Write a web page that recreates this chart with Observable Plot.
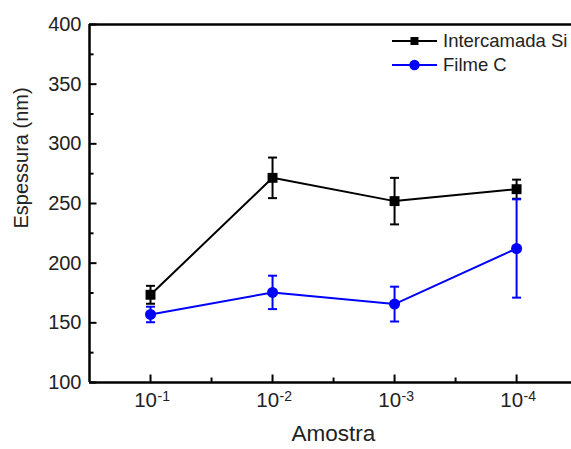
<!DOCTYPE html>
<html>
<head>
<meta charset="utf-8">
<script src="https://cdn.jsdelivr.net/npm/d3@7"></script>
<script src="https://cdn.jsdelivr.net/npm/@observablehq/plot@0.6"></script>
<style>
  html, body { margin: 0; padding: 0; background: #fff; overflow: hidden; }
  #wrap { position: relative; width: 571px; height: 449px; }
  #wrap svg { font-family: "Liberation Sans", Arial, sans-serif; }
  #legend { position: absolute; left: 0; top: 0; }
</style>
</head>
<body>
<div id="wrap"></div>
<script>
// ---- data ----
const samples = [1, 2, 3, 4];
const exponents = ["-1", "-2", "-3", "-4"];
const siValues = [173.5, 271.5, 252, 262];
const siErrors = [7.5, 17, 19.5, 8];
const filmeValues = [157, 175.5, 165.7, 212.3];
const filmeErrors = [6.5, 14, 14.6, 41.2];
const seriesNames = ["Intercamada Si", "Filme C"];
const yMajorTicks = [100, 150, 200, 250, 300, 350, 400];
const yMinorTicks = [125, 175, 225, 275, 325, 375];
const xMinorTicks = [1.5, 2.5, 3.5];
const xAxisTitle = "Amostra";
const yAxisTitle = "Espessura (nm)";

const si = samples.map((x, i) => ({x, y: siValues[i], e: siErrors[i]}));
const filme = samples.map((x, i) => ({x, y: filmeValues[i], e: filmeErrors[i]}));
const xLabels = samples.map((x, i) => ({x, exp: exponents[i]}));

// custom marker shapes (size = pi r^2)
const len = size => Math.sqrt(size / Math.PI);
const capSym = {draw(ctx, size) { const l = len(size); ctx.moveTo(-l, 0); ctx.lineTo(l, 0); }};
const tickRight = {draw(ctx, size) { const l = len(size); ctx.moveTo(0, 0); ctx.lineTo(l, 0); }};
const tickUp = {draw(ctx, size) { const l = len(size); ctx.moveTo(0, 0); ctx.lineTo(0, -l); }};

function seriesMarks(data, color, symbol, r) {
  return [
    Plot.line(data, {x: "x", y: "y", stroke: color, strokeWidth: 2}),
    Plot.ruleX(data, {x: "x", y1: d => d.y - d.e, y2: d => d.y + d.e, stroke: color, strokeWidth: 2}),
    Plot.dot(data, {x: "x", y: d => d.y - d.e, symbol: capSym, r: 4.5, stroke: color, strokeWidth: 2, fill: "none"}),
    Plot.dot(data, {x: "x", y: d => d.y + d.e, symbol: capSym, r: 4.5, stroke: color, strokeWidth: 2, fill: "none"}),
    Plot.dot(data, {x: "x", y: "y", symbol, r, fill: color, stroke: "none"})
  ];
}

const chart = Plot.plot({
  width: 571,
  height: 449,
  marginLeft: 89,
  marginRight: 0,
  marginTop: 24,
  marginBottom: 67,
  style: {fontFamily: "Liberation Sans, Arial, sans-serif", color: "black", background: "white"},
  x: {domain: [0.5, 4.45], axis: null},
  y: {domain: [100, 400], axis: null},
  marks: [
    // ticks (inward)
    Plot.dot(yMajorTicks, {y: d => d, frameAnchor: "left", symbol: tickRight, r: 7, stroke: "black", strokeWidth: 2, fill: "none"}),
    Plot.dot(yMinorTicks, {y: d => d, frameAnchor: "left", symbol: tickRight, r: 4, stroke: "black", strokeWidth: 2, fill: "none"}),
    Plot.dot(samples, {x: d => d, frameAnchor: "bottom", symbol: tickUp, r: 8, stroke: "black", strokeWidth: 2, fill: "none"}),
    Plot.dot(xMinorTicks, {x: d => d, frameAnchor: "bottom", symbol: tickUp, r: 5, stroke: "black", strokeWidth: 2, fill: "none"}),
    // frame lines
    Plot.ruleX([0.5], {stroke: "black", strokeWidth: 2.5}),
    Plot.ruleY([100, 400], {stroke: "black", strokeWidth: 2.5}),
    // y tick labels
    Plot.text(yMajorTicks, {y: d => d, text: d => String(d), frameAnchor: "left", textAnchor: "end", dx: -8, fontSize: 20, fill: "#222"}),
    // x tick labels 10^n
    Plot.text(xLabels, {x: "x", text: () => "10", frameAnchor: "bottom", textAnchor: "end", dx: 6.5, dy: 24, fontSize: 20.5, fill: "#222"}),
    Plot.text(xLabels, {x: "x", text: "exp", frameAnchor: "bottom", textAnchor: "start", dx: 7, dy: 18.5, fontSize: 14, fill: "#222"}),
    // axis titles
    Plot.text([xAxisTitle], {text: d => d, frameAnchor: "bottom", dx: 3, dy: 58, fontSize: 22.5, fill: "#222"}),
    Plot.text([yAxisTitle], {text: d => d, frameAnchor: "left", rotate: -90, dx: -68, dy: 25, fontSize: 20, fill: "#222"}),
    // series
    ...seriesMarks(si, "black", "square", 5.6),
    ...seriesMarks(filme, "#0000ff", "circle", 5.5)
  ]
});

const wrap = document.getElementById("wrap");
wrap.appendChild(chart);

// legend overlay (inside plot area, top right)
const legendItems = [
  {name: seriesNames[0], color: "black", symbol: d3.symbolSquare, size: 64},
  {name: seriesNames[1], color: "#0000ff", symbol: d3.symbolCircle, size: 85}
];
const leg = d3.create("svg").attr("id", "legend").attr("width", 571).attr("height", 449)
  .style("font-family", "Liberation Sans, Arial, sans-serif");
legendItems.forEach((it, i) => {
  const g = leg.append("g").attr("transform", `translate(392,${41 + i * 24})`);
  g.append("line").attr("x1", 0).attr("x2", 45).attr("y1", 0).attr("y2", 0)
    .attr("stroke", it.color).attr("stroke-width", 2);
  g.append("path").attr("d", d3.symbol(it.symbol, it.size)()).attr("transform", "translate(22.5,0)")
    .attr("fill", it.color);
  g.append("text").attr("x", 51).attr("y", 0).attr("dy", "0.35em").attr("font-size", 18.5)
    .attr("fill", "#222").text(it.name);
});
wrap.appendChild(leg.node());
</script>
</body>
</html>
